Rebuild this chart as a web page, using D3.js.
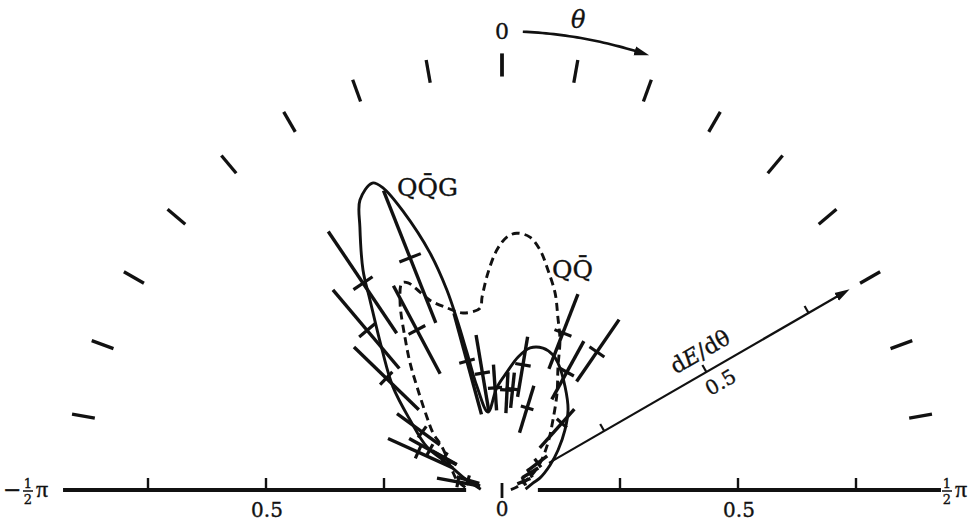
<!DOCTYPE html>
<html>
<head>
<meta charset="utf-8">
<script src="https://cdn.jsdelivr.net/npm/d3@7"></script>
<style>
  body { margin: 0; background: #fff; }
  svg text { font-family: "DejaVu Serif", "Liberation Serif", serif; fill: #111; stroke: #111; stroke-width: 0.35; }
  svg text.pi { font-family: "Liberation Serif", serif; }
</style>
</head>
<body>
<svg id="chart" width="973" height="522"></svg>
<script>
// angles in degrees from the vertical, radius in dE/dtheta units
var thetaTicks = [-80, -70, -60, -50, -40, -30, -20, -10, 0, 10, 20, 30, 40, 50, 60, 70, 80];
var baseTicks = [0.25, 0.5, 0.75];
var baseLabels = ["0.5"];
var axisAngle = 60;

// QQbarG prediction (solid)
var qqgTheta = [-88, -71.6, -63.9, -60.2, -52.7, -46.6, -40.6, -34.8, -32.3, -28.4, -26.1, -22.9, -21.5, -19.5, -16.9, -15.4, -14.8, -14.3, -13.6, -10.2, -2.8, 2.4, 6.9, 11.2, 16.1, 20.7, 23.8, 31.5, 39.5, 46.4, 54.5, 62.5, 72.5, 77.3, 88];
var qqgR = [0.045, 0.087, 0.13, 0.183, 0.245, 0.318, 0.39, 0.49, 0.551, 0.633, 0.684, 0.706, 0.688, 0.625, 0.525, 0.439, 0.373, 0.3, 0.226, 0.168, 0.218, 0.25, 0.284, 0.307, 0.313, 0.306, 0.294, 0.256, 0.22, 0.184, 0.146, 0.115, 0.084, 0.067, 0.05];

// QQbar prediction (dashed)
var qqTheta = [-86, -77.5, -68.2, -54.4, -50.4, -45.8, -39.5, -35.9, -32.4, -28.6, -25.8, -24.4, -22.5, -20.8, -16.8, -12.4, -6.9, -5.9, -3.7, -1.2, 1.1, 3.3, 6.3, 9, 11.8, 15.1, 17.9, 21.1, 24.5, 29.6, 36.1, 44.4, 54.6, 65.1, 78.7, 88];
var qqR = [0.078, 0.098, 0.114, 0.156, 0.19, 0.222, 0.283, 0.332, 0.384, 0.451, 0.487, 0.482, 0.454, 0.43, 0.403, 0.384, 0.388, 0.411, 0.461, 0.509, 0.536, 0.545, 0.539, 0.515, 0.476, 0.432, 0.385, 0.341, 0.286, 0.236, 0.183, 0.139, 0.099, 0.065, 0.032, 0.018];

// measured points: angle, value, low and high end of error bar
var ptTheta = [-79.7, -74, -65.7, -61, -60.6, -54, -46, -40.2, -33.9, -28, -21.6, -15.2, -9.5, -3.9, 2.9, 6, 9.5, 17, 21.2, 28.8, 34.5, 41.8, 53, 58.7, 68];
var ptR = [0.095, 0.075, 0.195, 0.175, 0.14, 0.209, 0.341, 0.443, 0.528, 0.384, 0.529, 0.283, 0.251, 0.217, 0.212, 0.215, 0.269, 0.182, 0.357, 0.285, 0.355, 0.19, 0.095, 0.069, 0.05];
var ptLo = [0.047, 0.05, 0.114, 0.11, 0.11, 0.163, 0.245, 0.337, 0.40, 0.279, 0.381, 0.166, 0.169, 0.169, 0.163, 0.175, 0.2, 0.127, 0.275, 0.219, 0.279, 0.12, 0.07, 0.05, 0.035];
var ptHi = [0.14, 0.1, 0.265, 0.225, 0.17, 0.275, 0.436, 0.555, 0.66, 0.49, 0.682, 0.388, 0.333, 0.266, 0.25, 0.25, 0.329, 0.231, 0.445, 0.36, 0.438, 0.23, 0.12, 0.09, 0.065];

var svg = d3.select("#chart");
var cx = 502, cy = 490;

var r = d3.scaleLinear().domain([0, 1]).range([0, 472]);
var ang = d3.scaleLinear().domain([-90, 90]).range([-Math.PI / 2, Math.PI / 2]);

function px(t, v) { return r(v) * Math.sin(ang(t)); }
function py(t, v) { return -r(v) * Math.cos(ang(t)); }

var g = svg.append("g").attr("transform", "translate(" + cx + "," + cy + ")");

// outer angle marks
g.selectAll(".atick")
  .data(thetaTicks)
  .enter().append("line")
  .attr("class", "atick")
  .attr("x1", d => px(d, 0.876)).attr("y1", d => py(d, 0.876))
  .attr("x2", d => px(d, 0.925)).attr("y2", d => py(d, 0.925))
  .attr("stroke", "#111")
  .attr("stroke-width", d => d == 0 ? 3.8 : 3.3);

g.append("text").attr("x", 0).attr("y", -451).attr("text-anchor", "middle")
  .attr("font-size", 22).text("0");

// arrow head
svg.append("defs").append("marker")
  .attr("id", "head").attr("viewBox", "0 0 10 10")
  .attr("refX", 2).attr("refY", 5)
  .attr("markerWidth", 15).attr("markerHeight", 15)
  .attr("markerUnits", "userSpaceOnUse")
  .attr("orient", "auto")
  .append("path").attr("d", "M0,2 L10,5 L0,8 Z").attr("fill", "#111");

// theta arrow arc
var arcPts = d3.range(0, 31).map(i => 2.6 + i * (17.2 - 2.6) / 30);
g.append("path")
  .attr("d", d3.line()(arcPts.map(t => [px(t, 0.972), py(t, 0.972)])))
  .attr("fill", "none").attr("stroke", "#111").attr("stroke-width", 2.6)
  .attr("marker-end", "url(#head)");
g.append("text")
  .attr("x", px(9.3, 1.0)).attr("y", py(9.3, 1.0) + 4)
  .attr("text-anchor", "middle").attr("font-size", 24).attr("font-style", "italic")
  .text("θ");

// baseline -pi/2 .. pi/2
[-1, 1].forEach(function (s) {
  g.append("line")
    .attr("x1", s * r(0.076)).attr("x2", s * r(0.93))
    .attr("y1", 0).attr("y2", 0)
    .attr("stroke", "#111").attr("stroke-width", 4);
  g.selectAll(".bt" + (s + 1))
    .data(baseTicks)
    .enter().append("line")
    .attr("x1", d => s * r(d)).attr("x2", d => s * r(d))
    .attr("y1", 0).attr("y2", -12)
    .attr("stroke", "#111").attr("stroke-width", 2.4);
  g.append("text")
    .attr("x", s * r(0.5) + 1).attr("y", 27)
    .attr("text-anchor", "middle").attr("font-size", 20)
    .text(baseLabels[0]);
});
g.append("line").attr("x1", 0).attr("x2", 0).attr("y1", -7).attr("y2", 8)
  .attr("stroke", "#111").attr("stroke-width", 2.8);
g.append("text").attr("x", 0).attr("y", 26).attr("text-anchor", "middle")
  .attr("font-size", 20).text("0");

// +-1/2 pi labels
function halfPi(x, minus) {
  var t = svg.append("g").attr("transform", "translate(" + x + "," + cy + ")");
  var off = 0;
  if (minus) {
    t.append("text").attr("x", 0).attr("y", 7).attr("font-size", 22).text("−");
    off = 20;
  }
  t.append("text").attr("x", off + 5).attr("y", -2).attr("text-anchor", "middle").attr("font-size", 13).text("1");
  t.append("line").attr("x1", off).attr("x2", off + 10).attr("y1", 1).attr("y2", 1)
    .attr("stroke", "#111").attr("stroke-width", 1.5);
  t.append("text").attr("x", off + 5).attr("y", 14).attr("text-anchor", "middle").attr("font-size", 13).text("2");
  t.append("text").attr("class", "pi").attr("x", off + 13).attr("y", 7).attr("font-size", 24).text("π");
}
halfPi(3, true);
halfPi(942, false);

// dE/dtheta axis
var aL = ang(axisAngle);
var ux = Math.sin(aL), uy = -Math.cos(aL);
g.append("line")
  .attr("x1", px(axisAngle, 0.115)).attr("y1", py(axisAngle, 0.115))
  .attr("x2", px(axisAngle, 0.825)).attr("y2", py(axisAngle, 0.825))
  .attr("stroke", "#111").attr("stroke-width", 2.2)
  .attr("marker-end", "url(#head)");
g.selectAll(".rtick")
  .data(baseTicks)
  .enter().append("line")
  .attr("class", "rtick")
  .attr("x1", d => px(axisAngle, d)).attr("y1", d => py(axisAngle, d))
  .attr("x2", d => px(axisAngle, d) + 8 * uy).attr("y2", d => py(axisAngle, d) - 8 * ux)
  .attr("stroke", "#111").attr("stroke-width", 2.2);
var rot = axisAngle - 90;
g.append("text")
  .attr("transform", "translate(" + (px(axisAngle, 0.51) - 13 * -uy) + "," + (py(axisAngle, 0.51) - 13 * ux) + ") rotate(" + rot + ")")
  .attr("text-anchor", "middle").attr("font-size", 22)
  .html('d<tspan font-style="italic">E</tspan>/dθ');
g.append("text")
  .attr("transform", "translate(" + (px(axisAngle, 0.515) + 23 * -uy) + "," + (py(axisAngle, 0.515) + 23 * ux) + ") rotate(" + rot + ")")
  .attr("text-anchor", "middle").attr("font-size", 20)
  .text("0.5");

// curves
var radial = d3.lineRadial()
  .angle(d => ang(d[0]))
  .radius(d => r(d[1]))
  .curve(d3.curveCatmullRom.alpha(0.5));

g.append("path")
  .datum(d3.zip(qqgTheta, qqgR))
  .attr("d", radial)
  .attr("fill", "none").attr("stroke", "#111").attr("stroke-width", 2.9);

g.append("path")
  .datum(d3.zip(qqTheta, qqR))
  .attr("d", radial)
  .attr("fill", "none").attr("stroke", "#111").attr("stroke-width", 2.9)
  .attr("stroke-dasharray", "8,5");

// data points with error bars
var pts = ptTheta.map((t, i) => ({ t: t, v: ptR[i], lo: ptLo[i], hi: ptHi[i] }));
var pg = g.selectAll(".pt").data(pts).enter().append("g").attr("class", "pt");
pg.append("line")
  .attr("x1", d => px(d.t, d.lo)).attr("y1", d => py(d.t, d.lo))
  .attr("x2", d => px(d.t, d.hi)).attr("y2", d => py(d.t, d.hi))
  .attr("stroke", "#111").attr("stroke-width", 3.4);
pg.append("line")
  .each(function (d) {
    var a = ang(d.t), h = 4 + 0.03 * r(d.v);
    var x0 = px(d.t, d.v), y0 = py(d.t, d.v);
    d3.select(this)
      .attr("x1", x0 - h * Math.cos(a)).attr("y1", y0 - h * Math.sin(a))
      .attr("x2", x0 + h * Math.cos(a)).attr("y2", y0 + h * Math.sin(a));
  })
  .attr("stroke", "#111").attr("stroke-width", 3.2);

// curve labels
svg.append("text").attr("x", 397).attr("y", 196).attr("font-size", 25).text("QQ\u0304G");
svg.append("text").attr("x", 552).attr("y", 278).attr("font-size", 25).text("QQ\u0304");
</script>
</body>
</html>
